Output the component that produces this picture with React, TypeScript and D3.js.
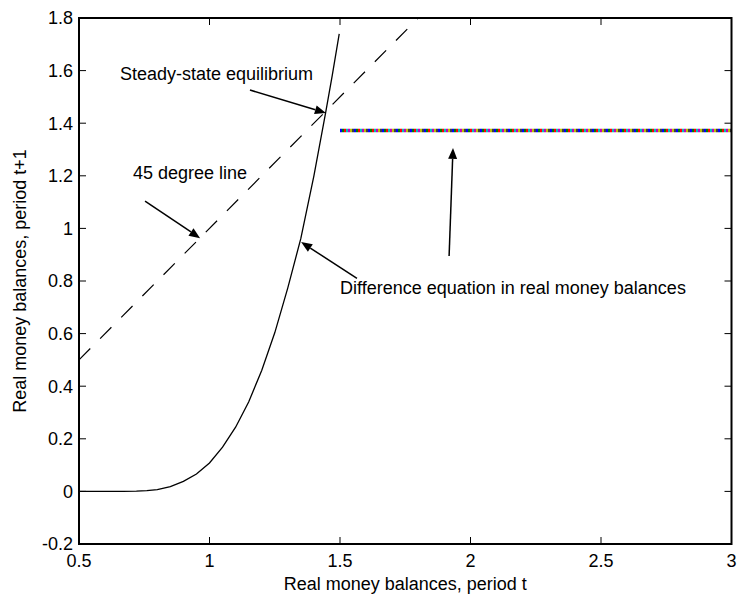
import React from "react";
import * as d3 from "d3";

// ---- data ----
const curveX = [0.5, 0.6, 0.67, 0.72, 0.76, 0.8, 0.85, 0.9, 0.95, 1.0, 1.05, 1.1, 1.15, 1.2, 1.25, 1.3, 1.35, 1.4, 1.445, 1.47, 1.497];
const curveY = [0, 0, 0, 0.001, 0.003, 0.007, 0.018, 0.038, 0.066, 0.108, 0.168, 0.244, 0.34, 0.46, 0.603, 0.774, 0.962, 1.2, 1.44, 1.58, 1.74];
const lineX = [0.5, 1.8];
const lineY = [0.5, 1.8];
const flatX = [1.5, 3];
const flatY = [1.372, 1.372];
const xTicks = [0.5, 1, 1.5, 2, 2.5, 3];
const yTicks = [-0.2, 0, 0.2, 0.4, 0.6, 0.8, 1, 1.2, 1.4, 1.6, 1.8];
const lineColors = ["#0000ff", "#008000", "#ff0000", "#00bfbf", "#bf00bf", "#bfbf00", "#404040"];

const labels = ["Steady-state equilibrium", "45 degree line", "Difference equation in real money balances"];
const labelX = [0.657, 0.707, 1.5];
const labelY = [1.564, 1.188, 0.752];
// arrows: tail -> tip, in data units
const arrowTailX = [1.155, 0.753, 1.565, 1.918];
const arrowTailY = [1.526, 1.104, 0.81, 0.895];
const arrowTipX = [1.446, 0.964, 1.351, 1.933];
const arrowTipY = [1.439, 0.963, 0.948, 1.306];

const W = 739, H = 602;
const L = 79, R = 731.5, T = 18, B = 544;
const FONT = "'Liberation Sans', Arial, Helvetica, sans-serif";

export default function App() {
  const x = d3.scaleLinear().domain([0.5, 3]).range([L, R]);
  const y = d3.scaleLinear().domain([-0.2, 1.8]).range([B, T]);
  const line = d3.line<number>().x((_, i) => x(curveX[i])).y((_, i) => y(curveY[i]));
  const curvePath = line(curveX) || "";

  // multicolor flat line: short segments cycling the plot colour order
  const segs: { x1: number; x2: number; c: string }[] = [];
  const px0 = x(flatX[0]), px1 = x(flatX[1]);
  const step = 2;
  let k = 0;
  for (let p = px0; p < px1; p += step) {
    segs.push({ x1: p, x2: Math.min(p + step, px1), c: lineColors[k % lineColors.length] });
    k++;
  }

  const arrows = arrowTailX.map((_, i) => {
    const x1 = x(arrowTailX[i]), y1 = y(arrowTailY[i]);
    const x2 = x(arrowTipX[i]), y2 = y(arrowTipY[i]);
    const dx = x2 - x1, dy = y2 - y1;
    const len = Math.hypot(dx, dy);
    const ux = dx / len, uy = dy / len;
    const hl = 11, hw = 4.5;
    const bx = x2 - ux * hl, by = y2 - uy * hl;
    const head = `M${x2},${y2}L${bx - uy * hw},${by + ux * hw}L${bx + uy * hw},${by - ux * hw}Z`;
    return { x1, y1, bx, by, head };
  });

  return (
    <svg width={W} height={H} style={{ position: "absolute", left: 0, top: 0, background: "#fff" }} fontFamily={FONT}>
      <rect x={0} y={0} width={W} height={H} fill="#fff" />
      <line x1={x(lineX[0])} y1={y(lineY[0])} x2={x(lineX[1])} y2={y(lineY[1])} stroke="#000" strokeWidth={1.2} strokeDasharray="16,14" />
      <path d={curvePath} fill="none" stroke="#000" strokeWidth={1.3} />
      {segs.map((s, i) => (
        <line key={i} x1={s.x1} x2={s.x2} y1={y(flatY[0])} y2={y(flatY[1])} stroke={s.c} strokeWidth={3.5} />
      ))}
      {arrows.map((a, i) => (
        <g key={i}>
          <line x1={a.x1} y1={a.y1} x2={a.bx} y2={a.by} stroke="#000" strokeWidth={1.5} />
          <path d={a.head} fill="#000" />
        </g>
      ))}
      {labels.map((t, i) => (
        <text key={i} x={x(labelX[i])} y={y(labelY[i])} fontSize={18} fill="#000">{t}</text>
      ))}
      <rect x={L} y={T} width={R - L} height={B - T} fill="none" stroke="#000" strokeWidth={2} />
      {xTicks.map((t, i) => (
        <g key={"xt" + i}>
          <line x1={x(t)} x2={x(t)} y1={B} y2={B - 7} stroke="#000" strokeWidth={1} />
          <line x1={x(t)} x2={x(t)} y1={T} y2={T + 7} stroke="#000" strokeWidth={1} />
          <text x={x(t)} y={567} textAnchor="middle" fontSize={18}>{String(t)}</text>
        </g>
      ))}
      {yTicks.map((t, i) => (
        <g key={"yt" + i}>
          <line x1={L} x2={L + 7} y1={y(t)} y2={y(t)} stroke="#000" strokeWidth={1} />
          <line x1={R} x2={R - 7} y1={y(t)} y2={y(t)} stroke="#000" strokeWidth={1} />
          <text x={73} y={y(t)} dy="0.36em" textAnchor="end" fontSize={18}>{String(Math.round(t * 10) / 10)}</text>
        </g>
      ))}
      <text x={(L + R) / 2} y={590} textAnchor="middle" fontSize={18}>Real money balances, period t</text>
      <text transform={`translate(26,${(T + B) / 2}) rotate(-90)`} textAnchor="middle" fontSize={18}>Real money balances, period t+1</text>
    </svg>
  );
}
